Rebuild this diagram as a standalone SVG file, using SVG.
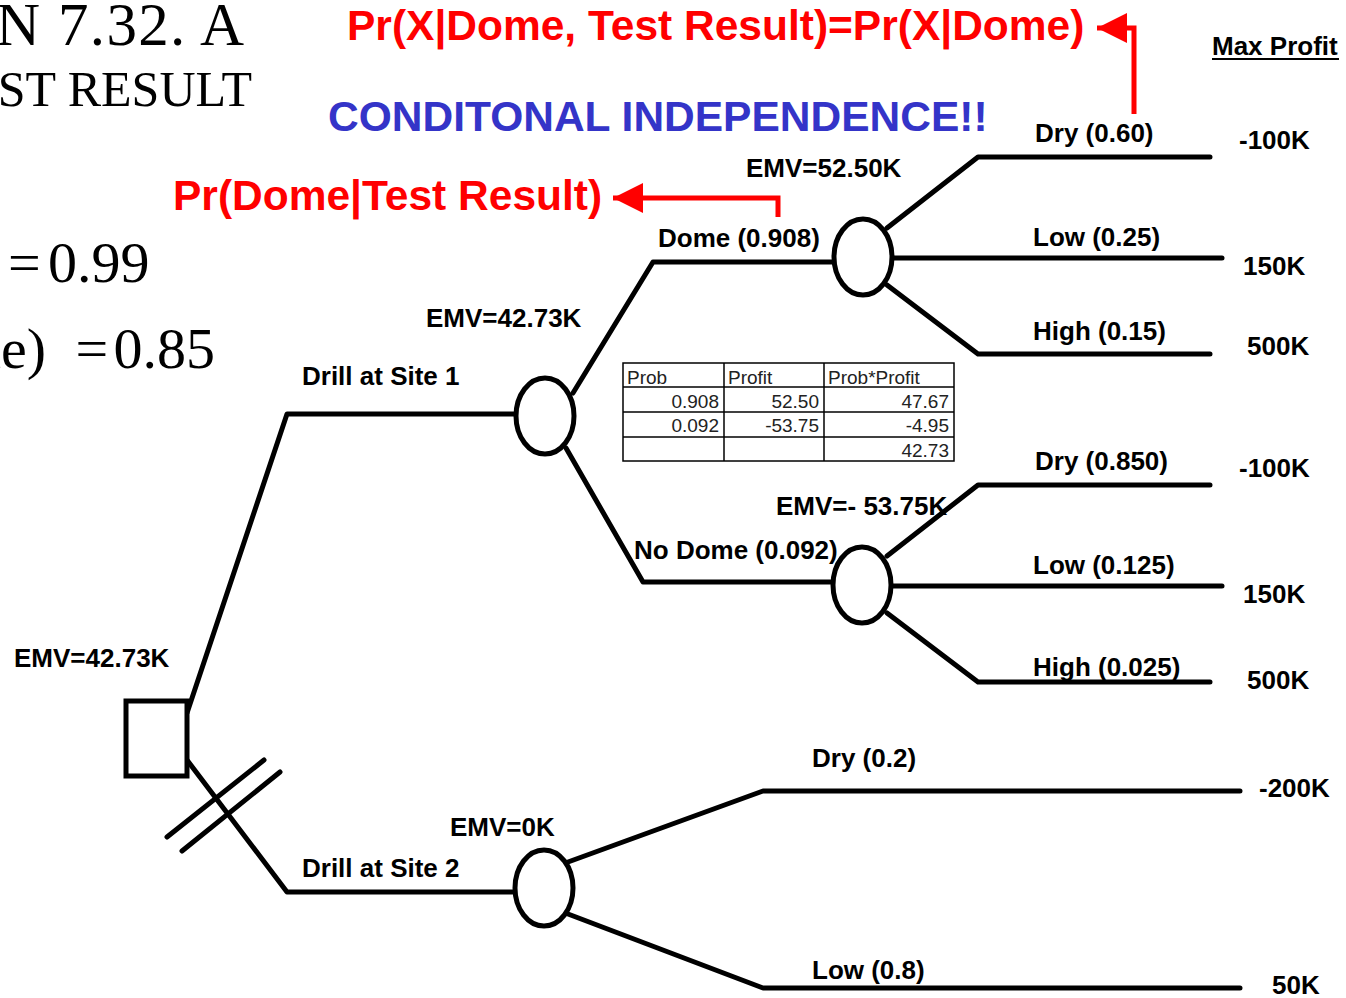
<svg xmlns="http://www.w3.org/2000/svg" width="1346" height="998" viewBox="0 0 1346 998">
<style>
.ln{fill:none;stroke:#000;stroke-width:5;stroke-linecap:round;stroke-linejoin:round}
.nd{fill:#fff;stroke:#000;stroke-width:5}
.lb{font-family:"Liberation Sans",Arial,sans-serif;font-weight:bold;font-size:26px;fill:#000}
.serif{font-family:"Liberation Serif","Times New Roman",serif;fill:#000}
.red{font-family:"Liberation Sans",Arial,sans-serif;font-weight:bold;font-size:42.5px;fill:#ff0000}
.blue{font-family:"Liberation Sans",Arial,sans-serif;font-weight:bold;font-size:42.5px;fill:#3434c8}
.rarrow{fill:none;stroke:#ff0000;stroke-width:5;stroke-linejoin:miter}
.tb{font-family:"Liberation Sans",Arial,sans-serif;font-size:19px;fill:#222}
.tl{stroke:#000;stroke-width:1.5;fill:none}
</style>
<defs>
<marker id="ah" markerUnits="userSpaceOnUse" markerWidth="32" markerHeight="32" refX="30" refY="15" orient="auto">
<path d="M0,0 L30,15 L0,30 Z" fill="#ff0000"/>
</marker>
</defs>

<g id="title">
<text class="serif" x="244" y="45" font-size="61" text-anchor="end" textLength="248" lengthAdjust="spacing">N 7.32. A</text>
<text class="serif" x="252" y="106" font-size="50" text-anchor="end">ST RESULT</text>
<text class="serif" y="282" font-size="58"><tspan x="8">=</tspan> <tspan x="48">0.99</tspan></text>
<text class="serif" y="368" font-size="58"><tspan x="46" text-anchor="end">ne)</tspan><tspan x="61"> =</tspan><tspan x="99"> 0.85</tspan></text>
</g>

<g id="annotations">
<text class="red" x="347" y="40">Pr(X|Dome, Test Result)=Pr(X|Dome)</text>
<text class="blue" x="328" y="131">CONDITONAL INDEPENDENCE!!</text>
<text class="red" x="173" y="210">Pr(Dome|Test Result)</text>
<path class="rarrow" d="M1134,114 V28 H1097" marker-end="url(#ah)"/>
<path class="rarrow" d="M778,217 V198 H613" marker-end="url(#ah)"/>
<text class="lb" x="1212" y="55">Max Profit</text>
<line x1="1212" y1="59" x2="1339" y2="59" stroke="#000" stroke-width="2"/>
</g>

<g id="connectors">
<path class="ln" d="M187,713 L287,414 H515"/>
<path class="ln" d="M573,393 L653,262 H834"/>
<path class="ln" d="M566,448 L643,582 H834"/>
<path class="ln" d="M887,228 L978,157 H1210"/>
<path class="ln" d="M891,258 H1222"/>
<path class="ln" d="M887,285 L978,354 H1210"/>
<path class="ln" d="M887,556 L978,485 H1210"/>
<path class="ln" d="M891,586 H1222"/>
<path class="ln" d="M887,613 L978,682 H1210"/>
<path class="ln" d="M187,760 L287,892 H514"/>
<path class="ln" d="M568,862 L763,791 H1240"/>
<path class="ln" d="M568,914 L763,988 H1240"/>
<line class="ln" x1="167" y1="837" x2="264" y2="760"/>
<line class="ln" x1="182" y1="851" x2="280" y2="772"/>
</g>

<g id="decision">
<rect class="nd" x="126" y="701" width="61" height="75"/>
<text class="lb" x="14" y="667">EMV=42.73K</text>
</g>

<g id="chance-site1">
<ellipse class="nd" cx="545" cy="416" rx="29" ry="38"/>
<text class="lb" x="426" y="327">EMV=42.73K</text>
<text class="lb" x="302" y="385">Drill at Site 1</text>
</g>

<g id="chance-dome">
<ellipse class="nd" cx="863" cy="257" rx="29" ry="38"/>
<text class="lb" x="746" y="177">EMV=52.50K</text>
<text class="lb" x="658" y="247">Dome (0.908)</text>
<text class="lb" x="1035" y="142">Dry (0.60)</text>
<text class="lb" x="1033" y="246">Low (0.25)</text>
<text class="lb" x="1033" y="340">High (0.15)</text>
<text class="lb" x="1239" y="149">-100K</text>
<text class="lb" x="1243" y="275">150K</text>
<text class="lb" x="1247" y="355">500K</text>
</g>

<g id="chance-nodome">
<ellipse class="nd" cx="862" cy="585" rx="29" ry="38"/>
<text class="lb" x="776" y="515">EMV=- 53.75K</text>
<text class="lb" x="634" y="559">No Dome (0.092)</text>
<text class="lb" x="1035" y="470">Dry (0.850)</text>
<text class="lb" x="1033" y="574">Low (0.125)</text>
<text class="lb" x="1033" y="676">High (0.025)</text>
<text class="lb" x="1239" y="477">-100K</text>
<text class="lb" x="1243" y="603">150K</text>
<text class="lb" x="1247" y="689">500K</text>
</g>

<g id="chance-site2">
<ellipse class="nd" cx="544" cy="888" rx="29" ry="38"/>
<text class="lb" x="450" y="836">EMV=0K</text>
<text class="lb" x="302" y="877">Drill at Site 2</text>
<text class="lb" x="812" y="767">Dry (0.2)</text>
<text class="lb" x="812" y="979">Low (0.8)</text>
<text class="lb" x="1259" y="797">-200K</text>
<text class="lb" x="1272" y="994">50K</text>
</g>

<g id="table">
<rect x="623" y="363" width="331" height="98" fill="#fff" class="tl"/>
<line class="tl" x1="623" y1="387" x2="954" y2="387"/>
<line class="tl" x1="623" y1="412" x2="954" y2="412"/>
<line class="tl" x1="623" y1="437" x2="954" y2="437"/>
<line class="tl" x1="724" y1="363" x2="724" y2="461"/>
<line class="tl" x1="824" y1="363" x2="824" y2="461"/>
<text class="tb" x="627" y="384">Prob</text>
<text class="tb" x="728" y="384">Profit</text>
<text class="tb" x="828" y="384">Prob*Profit</text>
<text class="tb" x="719" y="408" text-anchor="end">0.908</text>
<text class="tb" x="819" y="408" text-anchor="end">52.50</text>
<text class="tb" x="949" y="408" text-anchor="end">47.67</text>
<text class="tb" x="719" y="432" text-anchor="end">0.092</text>
<text class="tb" x="819" y="432" text-anchor="end">-53.75</text>
<text class="tb" x="949" y="432" text-anchor="end">-4.95</text>
<text class="tb" x="949" y="457" text-anchor="end">42.73</text>
</g>
</svg>
